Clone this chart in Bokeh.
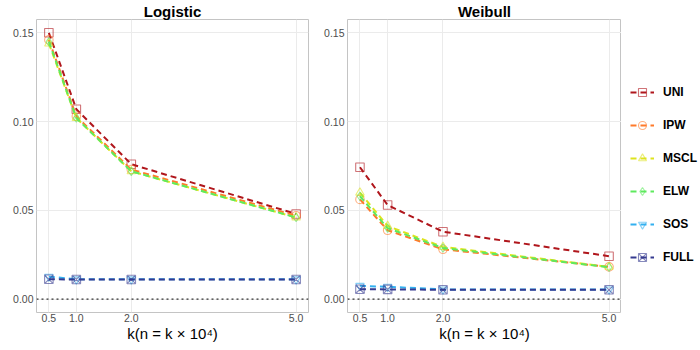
from bokeh.plotting import figure
from bokeh.models import (Range1d, FixedTicker, NumeralTickFormatter, Span,
                          Legend, LegendItem, Title)
from bokeh.layouts import row
from bokeh.embed import file_html
from bokeh.resources import INLINE

# ---- data ----
k = [0.5, 1.0, 2.0, 5.0]
methods = ["UNI", "IPW", "MSCL", "ELW", "SOS", "FULL"]

logistic_UNI = [0.150, 0.107, 0.076, 0.048]
logistic_IPW = [0.146, 0.103, 0.073, 0.047]
logistic_MSCL = [0.144, 0.102, 0.072, 0.046]
logistic_ELW = [0.145, 0.102, 0.072, 0.046]
logistic_SOS = [0.0127, 0.0112, 0.0112, 0.0112]
logistic_FULL = [0.0112, 0.0111, 0.0111, 0.0111]

weibull_UNI = [0.0743, 0.053, 0.038, 0.0242]
weibull_IPW = [0.0562, 0.0388, 0.0281, 0.0182]
weibull_MSCL = [0.060, 0.0412, 0.0294, 0.0182]
weibull_ELW = [0.058, 0.040, 0.0288, 0.0180]
weibull_SOS = [0.0075, 0.0070, 0.0055, 0.0055]
weibull_FULL = [0.0056, 0.0055, 0.0053, 0.0053]

y_ticks = [0.0, 0.05, 0.10, 0.15]
x_ticks = [0.5, 1.0, 2.0, 5.0]

colors = {"UNI": "#B0161C", "IPW": "#FF7A2A", "MSCL": "#DDE31E",
          "ELW": "#5EEA5E", "SOS": "#33B0F0", "FULL": "#353A90"}
markers = {"UNI": "square", "IPW": "circle", "MSCL": "triangle",
           "ELW": "diamond", "SOS": "inverted_triangle", "FULL": "square_x"}

logistic = {"UNI": logistic_UNI, "IPW": logistic_IPW, "MSCL": logistic_MSCL,
            "ELW": logistic_ELW, "SOS": logistic_SOS, "FULL": logistic_FULL}
weibull = {"UNI": weibull_UNI, "IPW": weibull_IPW, "MSCL": weibull_MSCL,
           "ELW": weibull_ELW, "SOS": weibull_SOS, "FULL": weibull_FULL}

FONT = "Liberation Sans"
H = 350


def add_series(p, data):
    items = []
    for m in methods:
        c = colors[m]
        lr = p.line(k, data[m], line_color=c, line_width=2, line_dash="6 4")
        sr = p.scatter(k, data[m], marker=markers[m], size=8.5, fill_color=None,
                       line_color=c, line_alpha=0.6, line_width=1.1)
        items.append(LegendItem(label=m, renderers=[lr, sr]))
    return items


def make_panel(name, data, width, left, right):
    p = figure(width=width, height=H, output_backend="svg", toolbar_location=None,
               x_range=Range1d(0.275, 5.225), y_range=Range1d(-0.0075, 0.1575),
               min_border_left=left, min_border_right=right,
               min_border_top=0, min_border_bottom=38)
    p.title = Title(text=name, align="center", text_font=FONT, text_font_size="15px",
                    text_font_style="bold", text_color="black", standoff=0, offset=0)
    p.background_fill_color = "white"
    p.border_fill_color = "white"
    p.outline_line_color = "#C4C4C4"
    p.outline_line_width = 1

    for ax in (p.xaxis[0], p.yaxis[0]):
        ax.axis_line_color = None
        ax.major_tick_line_color = None
        ax.minor_tick_line_color = None
        ax.major_tick_out = 0
        ax.major_tick_in = 0
        ax.major_label_standoff = 3
        ax.major_label_text_font = FONT
        ax.major_label_text_font_size = "10.5px"
        ax.major_label_text_color = "#4D4D4D"
    p.xaxis.major_label_standoff = 1
    p.xaxis.ticker = FixedTicker(ticks=x_ticks)
    p.xaxis.formatter = NumeralTickFormatter(format="0.0")
    p.yaxis.ticker = FixedTicker(ticks=y_ticks)
    p.yaxis.formatter = NumeralTickFormatter(format="0.00")
    p.xaxis.axis_label = "k(n = k × 10⁴)"
    p.xaxis.axis_label_text_font = FONT
    p.xaxis.axis_label_text_font_size = "15px"
    p.xaxis.axis_label_text_font_style = "normal"
    p.xaxis.axis_label_text_color = "black"
    p.xaxis.axis_label_standoff = 0

    p.xgrid.grid_line_color = "#EBEBEB"
    p.ygrid.grid_line_color = "#EBEBEB"
    p.xgrid.ticker = FixedTicker(ticks=x_ticks)
    p.ygrid.ticker = FixedTicker(ticks=y_ticks)

    p.add_layout(Span(location=0, dimension="width", line_color="#333333",
                      line_dash="2 3", line_width=1.3))
    add_series(p, data)
    return p


p1 = make_panel("Logistic", logistic, 318, 36, 10)
p2 = make_panel("Weibull", weibull, 303, 29, 0)

# legend panel: renderers sit outside its (invisible) view, only the legend shows
pl = figure(width=79, height=H, output_backend="svg", toolbar_location=None,
            x_range=Range1d(100, 101), y_range=Range1d(100, 101),
            min_border_left=0, min_border_right=0, min_border_top=0,
            min_border_bottom=0)
pl.axis.visible = False
pl.grid.visible = False
pl.outline_line_color = None
items = add_series(pl, weibull)
leg = Legend(items=items, location=(9, 45), padding=0, margin=0,
             glyph_width=24, glyph_height=20, spacing=13, label_standoff=9,
             label_text_font=FONT, label_text_font_size="12px",
             label_text_font_style="bold", label_text_color="black",
             border_line_color=None, background_fill_alpha=0)
pl.add_layout(leg, "center")

layout = row(p1, p2, pl)

open("out.html", "w").write(file_html(layout, INLINE))
